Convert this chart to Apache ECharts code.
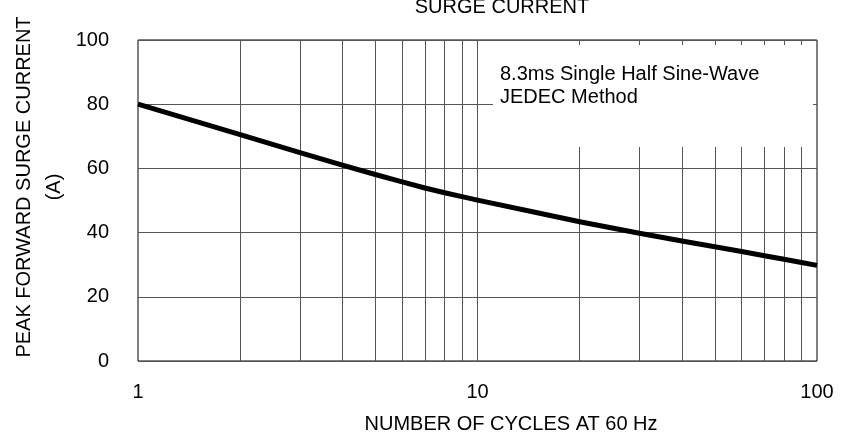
<!DOCTYPE html>
<html>
<head>
<meta charset="utf-8">
<script src="https://cdn.jsdelivr.net/npm/echarts@6/dist/echarts.min.js"></script>
<style>
html,body{margin:0;padding:0;background:#fff;}
#chart{width:850px;height:441px;}
</style>
</head>
<body>
<div id="chart"></div>
<script>
// Data
var cycles = [1, 2, 3, 4, 5, 6, 7, 8, 9, 10, 15, 20, 30, 40, 50, 60, 70, 80, 90, 100];
var surgeCurrent = [80, 70.5, 64.9, 61.0, 58.1, 55.8, 53.9, 52.4, 51.2, 50.1, 46.2, 43.4, 39.8, 37.4, 35.6, 34.1, 32.8, 31.7, 30.7, 29.8];
var verticalGridValues = [2, 3, 4, 5, 6, 7, 8, 9, 10, 20, 30, 40, 50, 60, 70, 80, 90];
var yTicks = [0, 20, 40, 60, 80, 100];
var titleText = 'SURGE CURRENT';
var xName = 'NUMBER OF CYCLES AT 60 Hz';
var yName = 'PEAK FORWARD SURGE CURRENT\n(A)';
var noteLines = ['8.3ms Single Half Sine-Wave', 'JEDEC Method'];

var FONT = '"Liberation Sans", Arial, sans-serif';
var chart = echarts.init(document.getElementById('chart'), null, {renderer: 'canvas'});

var curve = cycles.map(function (c, i) { return [c, surgeCurrent[i]]; });

var option = {
  animation: false,
  backgroundColor: '#fff',
  grid: {
    left: 138, right: 33, top: 40, bottom: 80,
    show: true, borderColor: '#000', borderWidth: 1, backgroundColor: 'transparent'
  },
  xAxis: {
    type: 'log', logBase: 10, min: 1, max: 100,
    axisLine: {show: false},
    axisTick: {show: false},
    splitLine: {show: false},
    axisLabel: {
      color: '#000', fontFamily: FONT, fontSize: 20, margin: 21,
      formatter: function (v) { return String(Math.round(v)); }
    }
  },
  yAxis: {
    type: 'value', min: yTicks[0], max: yTicks[yTicks.length - 1], interval: 20,
    axisLine: {show: false},
    axisTick: {show: false},
    splitLine: {show: true, lineStyle: {color: '#555', width: 1}},
    axisLabel: {color: '#000', fontFamily: FONT, fontSize: 20, margin: 29}
  },
  series: [
    {
      type: 'line',
      data: [],
      silent: true,
      markLine: {
        silent: true,
        symbol: ['none', 'none'],
        label: {show: false},
        lineStyle: {color: '#555', width: 1, type: 'solid'},
        data: verticalGridValues.map(function (v) { return {xAxis: v}; })
      },
      z: 1
    },
    {
      type: 'line',
      data: curve,
      smooth: false,
      showSymbol: false,
      lineStyle: {color: '#000', width: 5, join: 'round', cap: 'butt'},
      z: 5
    }
  ],
  graphic: [
    {
      type: 'rect', z: 100,
      shape: {x: 493, y: 45, width: 320, height: 102},
      style: {fill: '#fff'}
    },
    {
      type: 'text', z: 101, left: 500, top: 63,
      style: {text: noteLines.join('\n'), font: '20px ' + FONT, fill: '#000', lineHeight: 23}
    },
    {
      type: 'text', z: 101, x: 502, y: 7,
      style: {text: titleText, font: '20px ' + FONT, fill: '#000', align: 'center', verticalAlign: 'middle'}
    },
    {
      type: 'text', z: 101, x: 511, y: 424,
      style: {text: xName, font: '20px ' + FONT, fill: '#000', align: 'center', verticalAlign: 'middle'}
    },
    {
      type: 'text', z: 101, x: 39, y: 187, rotation: Math.PI / 2,
      style: {text: yName, font: '20px ' + FONT, fill: '#000', align: 'center', verticalAlign: 'middle', lineHeight: 30}
    }
  ]
};
chart.setOption(option);
</script>
</body>
</html>
